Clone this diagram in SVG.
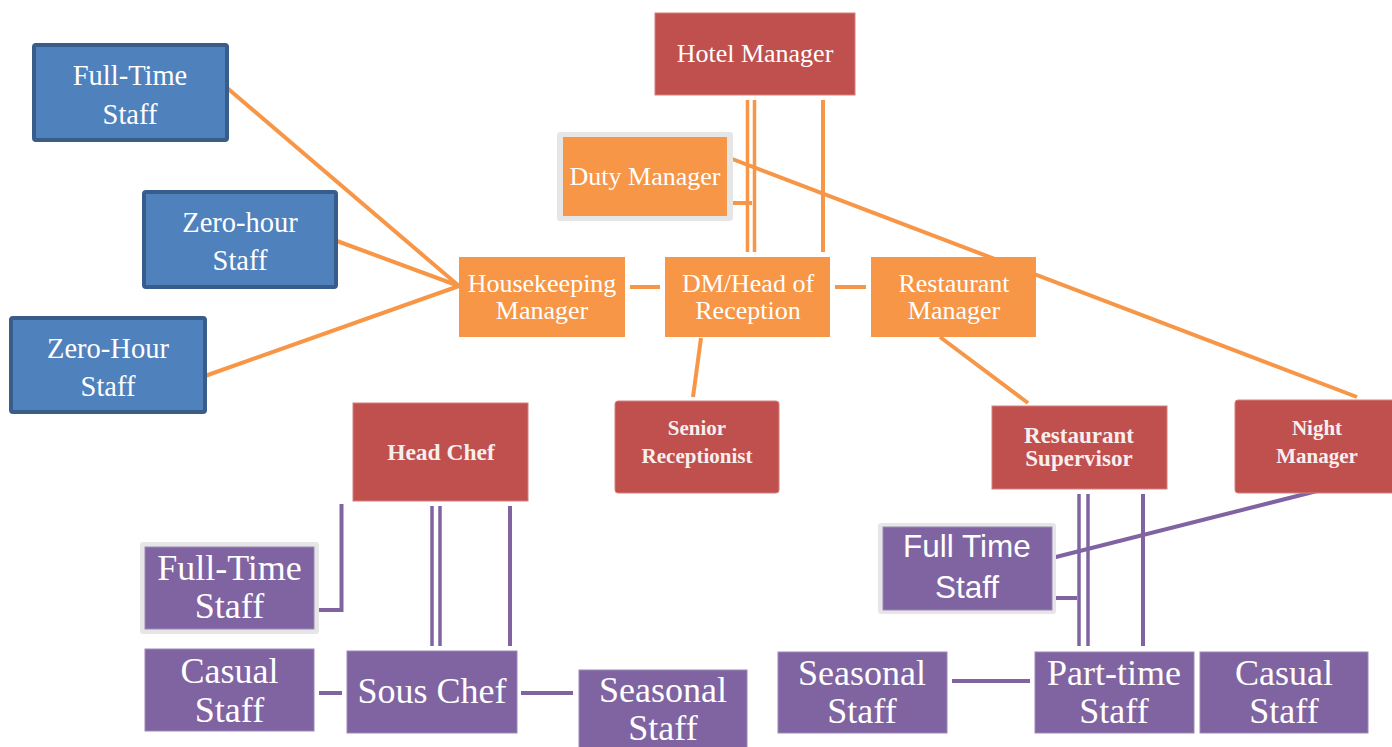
<svg xmlns="http://www.w3.org/2000/svg" width="1392" height="747" viewBox="0 0 1392 747">
<style>
.blue{fill:#4f81bd;stroke:#385d8a;stroke-width:4}
.org{fill:#f79646}
.red{fill:#c0504d;stroke:#d4807e;stroke-width:1}
.pur{fill:#8064a2;stroke:#9c87b8;stroke-width:1}
.gray{fill:#e6e6e6}
.ol{stroke:#f79646;stroke-width:4;fill:none}
.pl{stroke:#8064a2;stroke-width:4;fill:none}
.dl{stroke-width:3.5}
text{fill:#fff;text-anchor:middle;font-family:"Liberation Serif","Times New Roman",serif}
.t28{font-size:28.5px}
.t26{font-size:26px}
.t36{font-size:36px}
.b{font-weight:bold;font-size:21px;fill:#f7eeee}
.s{font-family:"Liberation Sans",Arial,sans-serif;font-size:31.5px}
</style>
<rect width="1392" height="747" fill="#fff"/>
<g id="connectors">
<line class="ol" x1="226" y1="87" x2="459" y2="286"/>
<line class="ol" x1="337" y1="241" x2="459" y2="286"/>
<line class="ol" x1="205" y1="376" x2="459" y2="286"/>
<line class="ol dl" x1="747.5" y1="100" x2="747.5" y2="252"/>
<line class="ol dl" x1="754.5" y1="100" x2="754.5" y2="252"/>
<line class="ol" x1="823" y1="100" x2="823" y2="252"/>
<line class="ol" x1="733" y1="203" x2="752" y2="203"/>
<line class="ol" x1="727" y1="157" x2="1357" y2="397"/>
<line class="ol" x1="630" y1="287" x2="660" y2="287"/>
<line class="ol" x1="835" y1="287" x2="866" y2="287"/>
<line class="ol" x1="701" y1="338" x2="693" y2="397"/>
<line class="ol" x1="940" y1="337" x2="1028" y2="403"/>
<polyline class="pl" points="319,610 341.5,610 341.5,504"/>
<line class="pl dl" x1="432" y1="506" x2="432" y2="646"/>
<line class="pl dl" x1="440" y1="506" x2="440" y2="646"/>
<line class="pl" x1="510" y1="506" x2="510" y2="646"/>
<line class="pl" x1="319" y1="693" x2="342" y2="693"/>
<line class="pl" x1="521" y1="693" x2="573" y2="693"/>
<line class="pl dl" x1="1079" y1="494" x2="1079" y2="646"/>
<line class="pl dl" x1="1088" y1="494" x2="1088" y2="646"/>
<line class="pl" x1="1143" y1="494" x2="1143" y2="646"/>
<line class="pl" x1="1056" y1="598" x2="1077" y2="598"/>
<line class="pl" x1="1325" y1="489" x2="1052" y2="558"/>
<line class="pl" x1="952" y1="681" x2="1030" y2="681"/>
</g>
<g id="full-time-staff-blue"><rect class="blue" x="34" y="45" width="193" height="95" rx="2"/><text class="t28" x="130" y="85">Full-Time</text><text class="t28" x="130" y="124">Staff</text></g>
<g id="zero-hour-staff"><rect class="blue" x="144" y="192" width="192" height="95" rx="2"/><text class="t28" x="240" y="232">Zero-hour</text><text class="t28" x="240" y="270">Staff</text></g>
<g id="zero-hour-staff-2"><rect class="blue" x="11" y="318" width="194" height="94" rx="2"/><text class="t28" x="108" y="358">Zero-Hour</text><text class="t28" x="108" y="396">Staff</text></g>
<g id="hotel-manager"><rect class="red" x="655" y="13" width="200" height="82"/><text class="t26" x="755" y="62">Hotel Manager</text></g>
<g id="duty-manager"><rect class="gray" x="557" y="132" width="176" height="89" rx="3"/><rect class="org" x="563" y="137" width="164" height="79"/><text class="t26" x="645" y="185">Duty Manager</text></g>
<g id="housekeeping-manager"><rect class="org" x="459" y="257" width="166" height="80"/><text class="t26" x="542" y="292">Housekeeping</text><text class="t26" x="542" y="319">Manager</text></g>
<g id="dm-head-of-reception"><rect class="org" x="665" y="257" width="165" height="80"/><text class="t26" x="748" y="292">DM/Head of</text><text class="t26" x="748" y="319">Reception</text></g>
<g id="restaurant-manager"><rect class="org" x="871" y="257" width="165" height="80"/><text class="t26" x="954" y="292">Restaurant</text><text class="t26" x="954" y="319">Manager</text></g>
<g id="senior-receptionist"><rect class="red" x="615" y="401" width="164" height="92" rx="3"/><text class="b" x="697" y="435">Senior</text><text class="b" x="697" y="463">Receptionist</text></g>
<g id="head-chef"><rect class="red" x="353" y="403" width="175" height="98"/><text class="b" x="441" y="460" style="font-size:23.5px">Head Chef</text></g>
<g id="restaurant-supervisor"><rect class="red" x="992" y="406" width="175" height="83"/><text class="b" x="1079" y="443" style="font-size:23px">Restaurant</text><text class="b" x="1079" y="466" style="font-size:23px">Supervisor</text></g>
<g id="night-manager"><rect class="red" x="1235" y="400" width="160" height="93" rx="3"/><text class="b" x="1317" y="435">Night</text><text class="b" x="1317" y="463">Manager</text></g>
<g id="full-time-staff-kitchen"><rect class="gray" x="140" y="542" width="179" height="92" rx="3"/><rect class="pur" x="145" y="547" width="169" height="82"/><text class="t36" x="229.5" y="580">Full-Time</text><text class="t36" x="229.5" y="618">Staff</text></g>
<g id="casual-staff-kitchen"><rect class="pur" x="145" y="649" width="169" height="82"/><text class="t36" x="229.5" y="683">Casual</text><text class="t36" x="229.5" y="722">Staff</text></g>
<g id="sous-chef"><rect class="pur" x="347" y="651" width="170" height="82"/><text class="t36" x="432" y="703">Sous Chef</text></g>
<g id="seasonal-staff-kitchen"><rect class="pur" x="579" y="670" width="168" height="82"/><text class="t36" x="663" y="702">Seasonal</text><text class="t36" x="663" y="740">Staff</text></g>
<g id="full-time-staff-restaurant"><rect class="gray" x="878" y="523" width="178" height="91" rx="3"/><rect class="pur" x="883" y="527" width="169" height="83"/><text class="s" x="967" y="557">Full Time</text><text class="s" x="967" y="598">Staff</text></g>
<g id="seasonal-staff-restaurant"><rect class="pur" x="778" y="652" width="169" height="81"/><text class="t36" x="862" y="685">Seasonal</text><text class="t36" x="862" y="723">Staff</text></g>
<g id="part-time-staff"><rect class="pur" x="1035" y="652" width="159" height="81"/><text class="t36" x="1114" y="685">Part-time</text><text class="t36" x="1114" y="723">Staff</text></g>
<g id="casual-staff-restaurant"><rect class="pur" x="1200" y="652" width="168" height="81"/><text class="t36" x="1284" y="685">Casual</text><text class="t36" x="1284" y="723">Staff</text></g>
</svg>
